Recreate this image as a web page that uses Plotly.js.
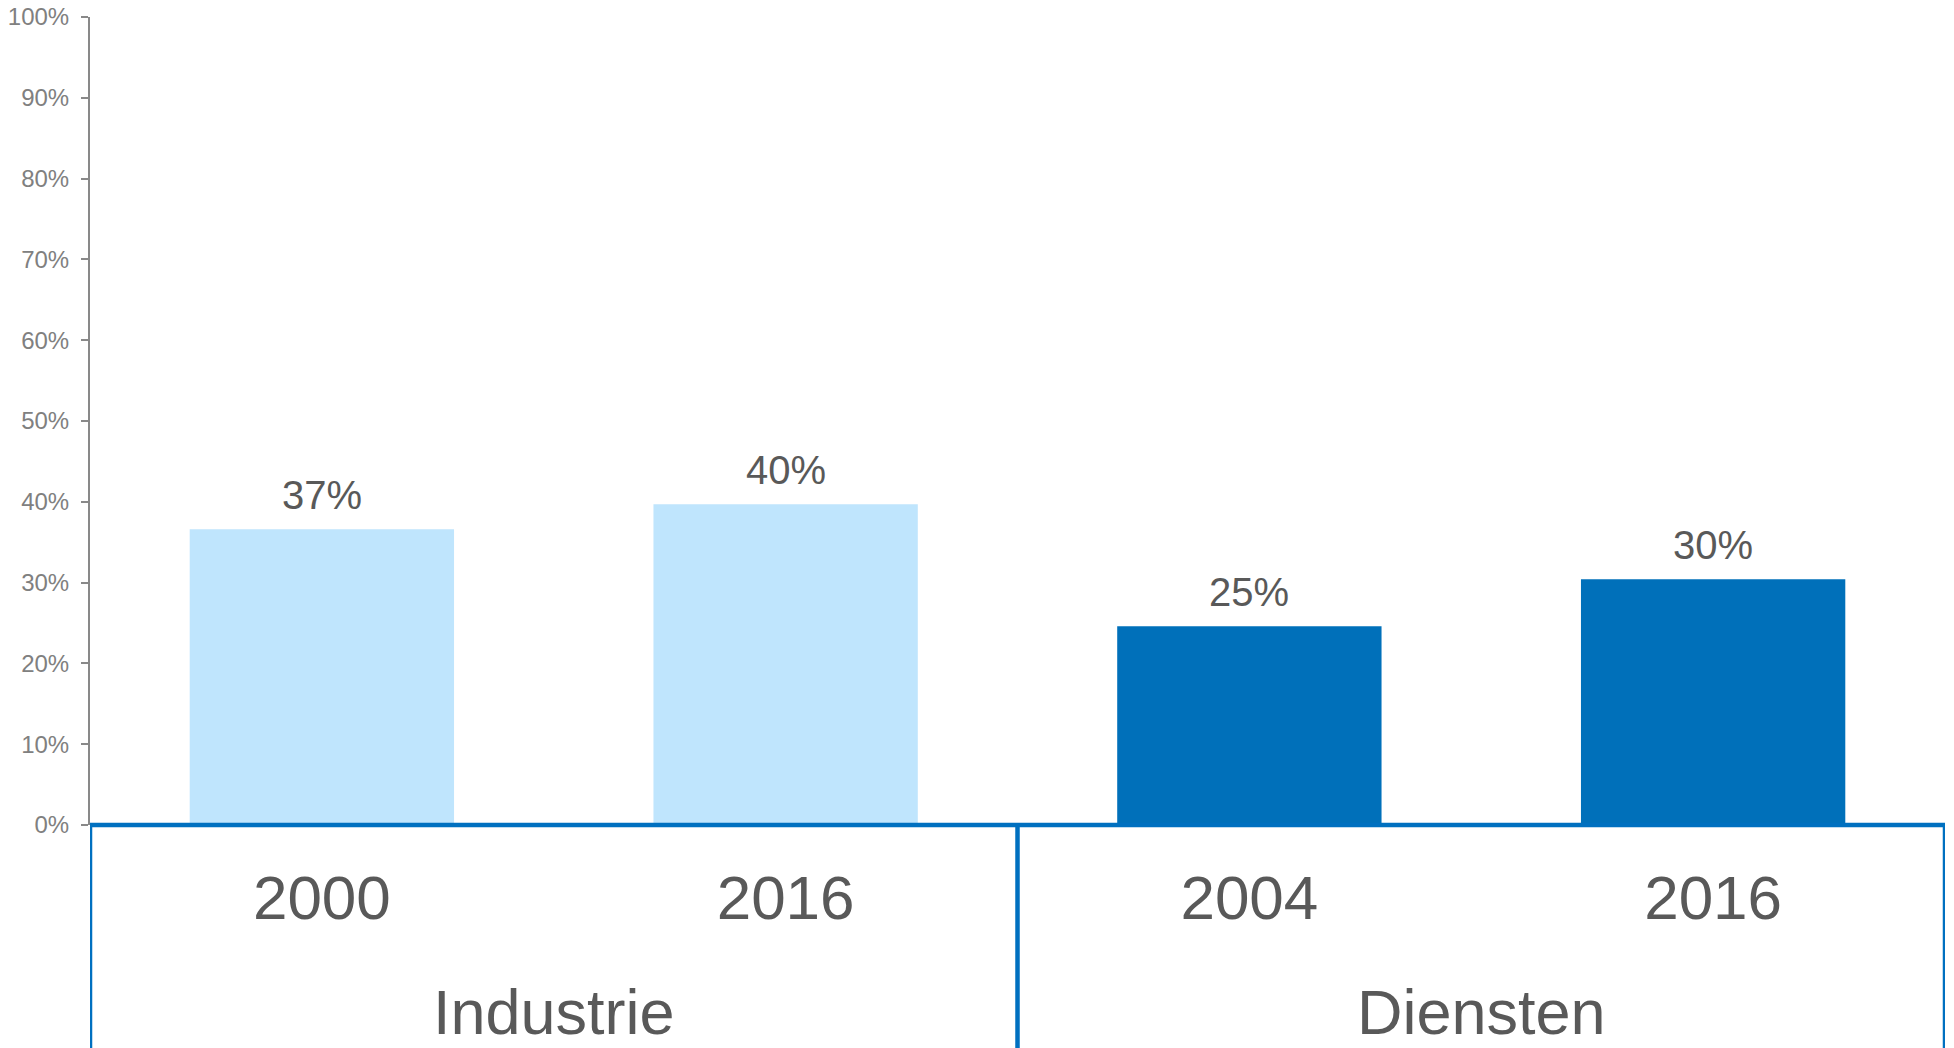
<!DOCTYPE html>
<html>
<head>
<meta charset="utf-8">
<script src="https://cdn.plot.ly/plotly-3.0.1.min.js"></script>
<style>
html,body{margin:0;padding:0;background:#ffffff;}
#chart{width:1954px;height:1048px;}
</style>
</head>
<body>
<div id="chart"></div>
<script>
// ---- data ----
const groups = ["Industrie", "Industrie", "Diensten", "Diensten"];
const years = ["2000", "2016", "2004", "2016"];
const shares = [36.6, 39.7, 24.6, 30.4];
const barColors = ["#BFE5FD", "#BFE5FD", "#0070BA", "#0070BA"];
const yTickVals = [0, 10, 20, 30, 40, 50, 60, 70, 80, 90, 100];
const yTickText = yTickVals.map(v => v + "%");

// ---- derived ----
const idx = years.map((_, i) => i);
const groupNames = [];
const groupSpans = {};
groups.forEach((g, i) => {
  if (!(g in groupSpans)) { groupSpans[g] = [i, i]; groupNames.push(g); }
  else groupSpans[g][1] = i;
});

const FONT = "Liberation Sans, Arial, sans-serif";
const BLUE = "#0070C0";

const trace = {
  type: "bar",
  x: idx,
  y: shares,
  marker: { color: barColors, line: { width: 0 } },
  hoverinfo: "skip"
};

const shapes = [];
// horizontal baseline at 0
shapes.push({
  type: "line", xref: "x", yref: "paper",
  x0: -0.5, x1: years.length - 0.5, y0: 0, y1: 0,
  line: { color: BLUE, width: 4.5 }
});
// vertical dividers at group boundaries
const bounds = [-0.5];
groupNames.forEach(g => bounds.push(groupSpans[g][1] + 0.5));
bounds.forEach(b => {
  shapes.push({
    type: "line", xref: "x", yref: "paper",
    x0: b, x1: b, y0: 0, y1: -0.4,
    line: { color: BLUE, width: 4.5 }
  });
});

const annotations = [];
shares.forEach((v, i) => {
  annotations.push({
    xref: "x", yref: "y", x: i, y: v,
    text: Math.round(v) + "%",
    showarrow: false, yanchor: "bottom", yshift: 10,
    font: { family: FONT, size: 40, color: "#595959" }
  });
});
groupNames.forEach(g => {
  annotations.push({
    xref: "x", yref: "paper",
    x: (groupSpans[g][0] + groupSpans[g][1]) / 2, y: -0.2314,
    text: g, showarrow: false, yanchor: "middle",
    font: { family: FONT, size: 63, color: "#595959" }
  });
});

const layout = {
  width: 1954, height: 1048,
  margin: { l: 90, r: 9, t: 17, b: 223 },
  paper_bgcolor: "#ffffff", plot_bgcolor: "#ffffff",
  showlegend: false,
  bargap: 0.43,
  font: { family: FONT },
  xaxis: {
    range: [-0.5, years.length - 0.5],
    tickmode: "array", tickvals: idx, ticktext: years,
    showgrid: false, zeroline: false, showline: false, ticks: "",
    ticklabelstandoff: 31,
    tickfont: { family: FONT, size: 62, color: "#595959" },
    fixedrange: true
  },
  yaxis: {
    range: [0, 100],
    tickmode: "array", tickvals: yTickVals, ticktext: yTickText,
    showgrid: false, zeroline: false,
    showline: true, linecolor: "#898989", linewidth: 2,
    ticks: "outside", ticklen: 7, tickwidth: 2, tickcolor: "#898989",
    ticklabelstandoff: 7,
    tickfont: { family: FONT, size: 24, color: "#808080" },
    fixedrange: true
  },
  shapes: shapes,
  annotations: annotations
};

Plotly.newPlot("chart", [trace], layout, { displayModeBar: false, staticPlot: true });
</script>
</body>
</html>
